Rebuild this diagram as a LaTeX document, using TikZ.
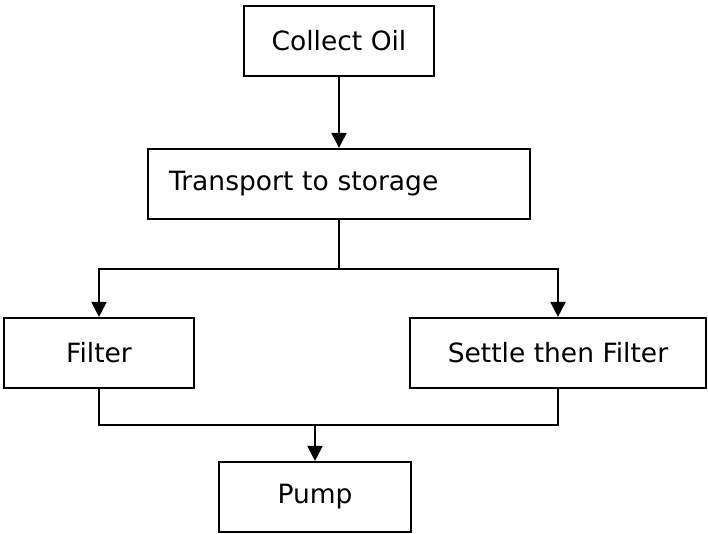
\documentclass[tikz,border=0pt]{standalone}
\usepackage{fontspec}
\setmainfont{DejaVu Sans}
\usetikzlibrary{arrows.meta}
\begin{document}
\begin{tikzpicture}[x=1pt,y=-1pt,
  box/.style={draw=black, line width=2.2pt, minimum height=70pt, inner sep=0pt,
    font=\fontsize{26.5}{30}\selectfont, text=black},
  conn/.style={line width=2.2pt, draw=black},
  arr/.style={conn, -{Triangle[length=15pt,width=15pt]}}]
\useasboundingbox (0,0) rectangle (708,534);
\node[box, minimum width=190pt] (collect) at (339,41) {Collect Oil};
\node[box, text width=340pt, align=left, inner xsep=21pt, minimum width=382pt] (transport) at (339,184) {Transport to storage};
\node[box, minimum width=190pt] (filter) at (99,353) {Filter};
\node[box, minimum width=296pt] (settle) at (558,353) {Settle then Filter};
\node[box, minimum width=192pt] (pump) at (315,497) {Pump};
\coordinate (split) at (339,269);
\coordinate (join) at (315,425);
\draw[arr] (collect) -- (transport);
\draw[conn] (transport.south) -- (split);
\draw[arr] (split) -| (filter.north);
\draw[arr] (split) -| (settle.north);
\draw[conn] (filter.south) |- (join);
\draw[conn] (settle.south) |- (join);
\draw[arr] (join) -- (pump.north);
\end{tikzpicture}
\end{document}
